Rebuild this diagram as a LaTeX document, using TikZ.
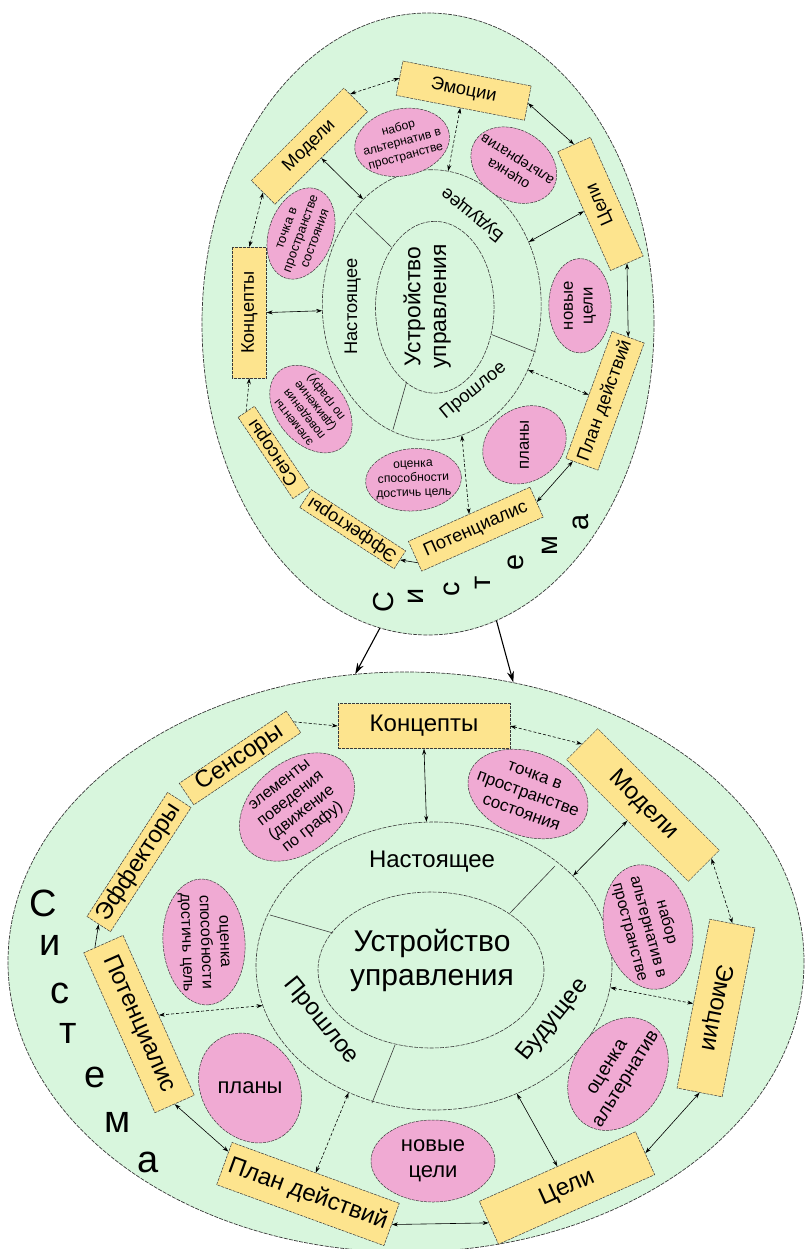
\documentclass[tikz,border=0pt]{standalone}
\usepackage{fontspec}
\setmainfont{Liberation Sans}
\usetikzlibrary{shapes.geometric,arrows.meta}
\definecolor{sysgreen}{HTML}{D8F6DD}
\definecolor{boxyellow}{HTML}{FDE48E}
\definecolor{pinkfill}{HTML}{F0AAD3}
\definecolor{edgegray}{HTML}{3A3A3A}
\tikzset{
  outerell/.style={ellipse, draw=edgegray, dash pattern=on 4pt off 1.2pt, line width=0.7pt, fill=sysgreen, inner sep=0pt},
  ringell/.style={ellipse, draw=edgegray, dash pattern=on 4pt off 1.2pt, line width=0.6pt, inner sep=0pt},
  divider/.style={draw=edgegray, line width=0.6pt},
  ybox/.style={rectangle, draw=edgegray, dash pattern=on 3pt off 1pt, line width=0.5pt, fill=boxyellow, inner sep=0pt, font=\fontsize{24}{26}\selectfont},
  pinkell/.style={ellipse, draw=edgegray, dash pattern=on 3pt off 1pt, line width=0.5pt, fill=pinkfill, inner sep=0pt},
  pinktext/.style={align=center, inner sep=0pt},
  ringtext/.style={inner sep=0pt, font=\fontsize{24}{26}\selectfont},
  sysletter/.style={inner sep=0pt, font=\fontsize{38}{40}\selectfont},
  conntwo/.style={line width=0.6pt, {Stealth[length=6pt,width=4pt]}-{Stealth[length=6pt,width=4pt]}},
  connone/.style={line width=0.6pt, -{Stealth[length=6pt,width=4pt]}},
  bigarrow/.style={line width=1.1pt, -{Stealth[length=11pt,width=7pt]}}
}
\newcommand{\controldiagram}[1]{%
  % rings
  \node[ringell, minimum width=356, minimum height=288] (#1mid) at (2,-1) {};
  \node[ringell, minimum width=226, minimum height=156] (#1inn) at (-1,3) {};
  \draw[divider] (78,-54) -- (123,-101);
  \draw[divider] (-162,-52) -- (-99,-34);
  \draw[divider] (-37,78) -- (-60,136);
  \node[ringtext] (#1now) at (0,-105) {Настоящее};
  \node[ringtext, rotate=-51] (#1past) at (-111,54) {Прошлое};
  \node[ringtext, rotate=51] (#1fut) at (121,53) {Будущее};
  \node[align=center, inner sep=0pt, font=\fontsize{30}{34}\selectfont] (#1dev) at (0,-7) {Устройство\\управления};
  % pink ellipses
  \node[pinkell, minimum width=130, minimum height=90, rotate=40] (#1pa) at (-135,-160) {};
  \node[pinktext, rotate=38, font=\fontsize{16}{18}\selectfont] (#1pat) at (#1pa) {элементы\\поведения\\(движение\\по графу)};
  \node[pinkell, minimum width=124, minimum height=84, rotate=-20] (#1pb) at (96,-173) {};
  \node[pinktext, rotate=-20, font=\fontsize{17}{20}\selectfont] (#1pbt) at (#1pb) {точка в\\пространстве\\состояния};
  \node[pinkell, minimum width=126, minimum height=88, rotate=-78] (#1pc) at (216,-40) {};
  \node[pinktext, rotate=-75, font=\fontsize{16}{19}\selectfont] (#1pct) at (#1pc) {набор\\альтернатив в\\пространстве};
  \node[pinkell, minimum width=120, minimum height=92, rotate=58] (#1pd) at (186,107) {};
  \node[pinktext, rotate=58, font=\fontsize{19}{22}\selectfont] (#1pdt) at (#1pd) {оценка\\альтернатив};
  \node[pinkell, minimum width=124, minimum height=82] (#1pe) at (1,194) {};
  \node[pinktext, font=\fontsize{22}{26}\selectfont] (#1pet) at (#1pe) {новые\\цели};
  \node[pinkell, minimum width=116, minimum height=96, rotate=-55] (#1pf) at (-182,121) {};
  \node[pinktext, font=\fontsize{22}{26}\selectfont] (#1pft) at (#1pf) {планы};
  \node[pinkell, minimum width=126, minimum height=82, rotate=-86] (#1pg) at (-228,-25) {};
  \node[pinktext, rotate=-88, font=\fontsize{16}{19}\selectfont] (#1pgt) at (#1pg) {оценка\\способности\\достичь цель};
  % yellow boxes
  \node[ybox, minimum width=172, minimum height=45] (#1kon) at (-8,-241) {Концепты};
  \node[ybox, minimum width=172, minimum height=44, rotate=-45] (#1mod) at (211,-162) {Модели};
  \node[ybox, minimum width=172, minimum height=46, rotate=-101] (#1emo) at (284,41) {Эмоции};
  \node[ybox, minimum width=171, minimum height=47, rotate=24] (#1cel) at (135,221) {Цели};
  \node[ybox, minimum width=178, minimum height=45, rotate=-20] (#1plan) at (-124,227) {План действий};
  \node[ybox, minimum width=175, minimum height=43, rotate=-66] (#1pot) at (-293,57) {Потенциалис};
  \node[ybox, minimum width=148, minimum height=28, rotate=57] (#1eff) at (-293,-105) {Эффекторы};
  \node[ybox, minimum width=129, minimum height=26, rotate=34] (#1sen) at (-192,-209) {Сенсоры};
  % connectors
  \draw[connone, densely dashed] (#1sen.east) -- (#1kon.west);
  \draw[conntwo, densely dashed] (#1kon.east) -- (#1mod.west);
  \draw[conntwo] (#1kon.south) -- (#1mid.93.6);
  \draw[conntwo] (#1mod.south) -- (#1mid.33.2);
  \draw[conntwo, densely dashed] (#1mod.7) -- (#1emo.west);
  \draw[conntwo, densely dashed] (#1mid.-7.5) -- (#1emo.south);
  \draw[conntwo] (#1emo.east) -- (#1cel.east);
  \draw[conntwo] (#1mid.-57.2) -- (#1cel.north);
  \draw[conntwo] (#1cel.west) -- (#1plan.east);
  \draw[conntwo, densely dashed] (#1mid.-124.4) -- (#1plan.north);
  \draw[conntwo] (#1pot.east) -- (#1plan.172);
  \draw[conntwo, densely dashed] (#1mid.-167.9) -- (#1pot.north);
  \draw[connone] (#1pot.186) -- (#1eff.west);
  % word
  \node[sysletter] (#1l1) at (-389,-64) {С};
  \node[sysletter] (#1l2) at (-382,-22) {и};
  \node[sysletter] (#1l3) at (-372,26) {с};
  \node[sysletter] (#1l4) at (-364,66) {т};
  \node[sysletter] (#1l5) at (-337,110) {е};
  \node[sysletter] (#1l6) at (-314,155) {м};
  \node[sysletter] (#1l7) at (-284,195) {а};
}
\begin{document}
\begin{tikzpicture}[x=1pt, y=-1pt]
  \useasboundingbox (0,0) rectangle (805,1249);
  \clip (0,0) rectangle (805,1249);
  \fill[white] (0,0) rectangle (805,1249);
  \node[outerell, minimum width=796, minimum height=580] (sysB) at (406,962) {};
  \node[outerell, minimum width=452, minimum height=622] (sysT) at (428,324) {};
  \draw[bigarrow] (sysT.-99.8) -- (sysB.100);
  \draw[bigarrow] (sysT.-77.5) -- (sysB.69);
  \begin{scope}[shift={(432,967)}, transform shape]
    \controldiagram{B}
  \end{scope}
  \begin{scope}[shift={(432.5,306.5)}, rotate=90, scale=0.76, transform shape]
    \controldiagram{T}
  \end{scope}
\end{tikzpicture}
\end{document}
